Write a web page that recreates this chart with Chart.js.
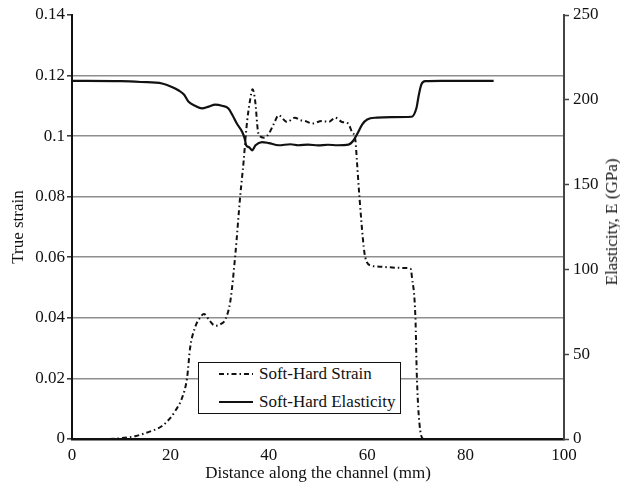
<!DOCTYPE html>
<html>
<head>
<meta charset="utf-8">
<script src="https://cdn.jsdelivr.net/npm/chart.js@4.4.0/dist/chart.umd.min.js"></script>
<style>
  html, body { margin: 0; padding: 0; background: #fff; }
  #wrap { position: relative; width: 620px; height: 484px; overflow: hidden; font-family: "Liberation Serif", "DejaVu Serif", serif; color: #111; }
  #legend { position: absolute; left: 198px; top: 362px; width: 201px; height: 50px; border: 1.5px solid #111; background: #fff; font-size: 17px; }
  .row { position: absolute; left: 0; height: 22px; line-height: 22px; white-space: nowrap; }
  .row svg { position: absolute; left: 20px; top: 6px; }
  .row span { position: absolute; left: 60px; top: 0; }
  #rtitle { position: absolute; left: 612px; top: 222px; transform: translate(-50%, -50%) rotate(-90deg); white-space: nowrap; font-size: 17px; }
</style>
</head>
<body>
<div id="wrap">
  <canvas id="c" width="620" height="484"></canvas>
  <div id="legend">
    <div class="row" style="top:0px;"><svg width="36" height="10"><line x1="0" y1="5" x2="34" y2="5" stroke="#111" stroke-width="2" stroke-dasharray="5,3,1.5,3"/></svg><span>Soft-Hard Strain</span></div>
    <div class="row" style="top:28px;"><svg width="36" height="10"><line x1="0" y1="5" x2="34" y2="5" stroke="#111" stroke-width="2.2"/></svg><span>Soft-Hard Elasticity</span></div>
  </div>
  <div id="rtitle">Elasticity, E (GPa)</div>
</div>
<script>
// ---- data ----
const strainX = [0, 5, 9.5, 13, 15, 18.3, 20, 21, 22.4, 23.4, 24, 25, 26, 26.8, 28, 29.1, 30.3, 31.2, 32.2, 33.2, 34.2, 34.9, 35.3, 35.6, 36.2, 36.7, 37.2, 37.9, 39, 40, 41, 42, 43.7, 45.3, 46.4, 47.4, 48.8, 50.8, 52.2, 53.5, 54.9, 56.1, 56.9, 57.6, 57.9, 58.4, 59.3, 59.6, 60.6, 62, 64.4, 67.1, 68.8, 69.1, 69.8, 70.1, 70.8, 71.5, 78, 85.5];
const strainY = [0, 0, 0.0002, 0.001, 0.002, 0.0043, 0.007, 0.0093, 0.0137, 0.0203, 0.030, 0.0368, 0.040, 0.0413, 0.039, 0.0374, 0.038, 0.0396, 0.0457, 0.061, 0.0804, 0.092, 0.1, 0.105, 0.112, 0.1155, 0.112, 0.1008, 0.0995, 0.1008, 0.104, 0.1069, 0.1047, 0.1061, 0.1053, 0.105, 0.1042, 0.105, 0.1047, 0.1061, 0.1047, 0.1042, 0.1014, 0.0986, 0.092, 0.0804, 0.0633, 0.060, 0.0573, 0.057, 0.0567, 0.0565, 0.0562, 0.0534, 0.0401, 0.0203, 0.0026, 0, 0, 0];

const elasticX = [0, 10, 14, 18.3, 20.3, 21.7, 22.8, 23.7, 25, 26.4, 27.8, 29.1, 30.5, 31.8, 32.6, 33.5, 34.6, 35.1, 35.4, 36, 36.6, 37.3, 38.6, 40, 42, 44.4, 46, 48, 50, 52, 54, 56.2, 57.2, 58, 59, 60, 62, 65, 69, 70, 70.5, 71, 71.8, 75, 85.7];
const elasticY = [211.2, 211, 210.5, 209.6, 207.6, 205.5, 203, 198.8, 196.5, 194.9, 196, 197.2, 196.5, 194.9, 191, 186, 181, 177.1, 173.2, 172, 170.2, 173.2, 175.1, 174.5, 173.2, 173.8, 173.2, 173.6, 173.1, 173.5, 173.2, 173.6, 176, 180, 185.5, 188.4, 189.5, 189.8, 190, 195, 203, 209, 211, 211.2, 211.2];

const xTicks = [0, 20, 40, 60, 80, 100];
const leftTicks = [0, 0.02, 0.04, 0.06, 0.08, 0.1, 0.12, 0.14];
const rightTicks = [0, 50, 100, 150, 200, 250];

const strainPts = strainX.map((x, i) => ({ x: x, y: strainY[i] }));
const elasticPts = elasticX.map((x, i) => ({ x: x, y: elasticY[i] }));

const FONT = "'Liberation Serif', 'DejaVu Serif', serif";
const tickFont = { family: FONT, size: 17 };

new Chart(document.getElementById('c'), {
  type: 'line',
  data: {
    datasets: [
      { label: 'Soft-Hard Strain', data: strainPts, yAxisID: 'y', borderColor: '#111', borderWidth: 2, borderDash: [5, 3, 1.5, 3], pointRadius: 0, cubicInterpolationMode: 'monotone', fill: false },
      { label: 'Soft-Hard Elasticity', data: elasticPts, yAxisID: 'y1', borderColor: '#111', borderWidth: 2.2, pointRadius: 0, cubicInterpolationMode: 'monotone', fill: false }
    ]
  },
  options: {
    responsive: false,
    animation: false,
    devicePixelRatio: 1,
    layout: { padding: { top: 15, left: 0, right: 0, bottom: 0 } },
    plugins: { legend: { display: false }, tooltip: { enabled: false } },
    scales: {
      x: {
        type: 'linear', min: 0, max: 100,
        afterBuildTicks: s => { s.ticks = xTicks.map(v => ({ value: v })); },
        afterFit: s => { s.height = 45; },
        grid: { display: true, drawOnChartArea: false, drawTicks: false },
        border: { display: true, color: '#111', width: 2.5 },
        ticks: { font: tickFont, color: '#111', padding: 6, maxRotation: 0, callback: v => String(v) },
        title: { display: true, text: 'Distance along the channel (mm)', font: { family: FONT, size: 17 }, color: '#111', padding: { top: 0, bottom: 0 } }
      },
      y: {
        type: 'linear', position: 'left', min: 0, max: 0.14,
        afterBuildTicks: s => { s.ticks = leftTicks.map(v => ({ value: v })); },
        afterFit: s => { s.width = 72; },
        grid: {
          color: c => (c.tick && c.tick.value >= 0.139) ? 'rgba(0,0,0,0)' : '#8e8e8e',
          lineWidth: 1.6, tickColor: '#333', tickLength: 5, tickWidth: 1.5
        },
        border: { display: true, color: '#111', width: 2 },
        ticks: { font: tickFont, color: '#111', padding: 2, callback: v => String(parseFloat(Number(v).toFixed(2))) },
        title: { display: true, text: 'True strain', font: { family: FONT, size: 17 }, color: '#111', padding: { top: 8, bottom: 0 } }
      },
      y1: {
        type: 'linear', position: 'right', min: 0, max: 250,
        afterBuildTicks: s => { s.ticks = rightTicks.map(v => ({ value: v })); },
        afterFit: s => { s.width = 56; },
        grid: { drawOnChartArea: false, color: '#444', tickLength: 5, tickWidth: 1.5 },
        border: { display: true, color: '#444', width: 2 },
        ticks: { font: tickFont, color: '#111', padding: 4, callback: v => String(v) },
        title: { display: false }
      }
    }
  }
});
</script>
</body>
</html>
